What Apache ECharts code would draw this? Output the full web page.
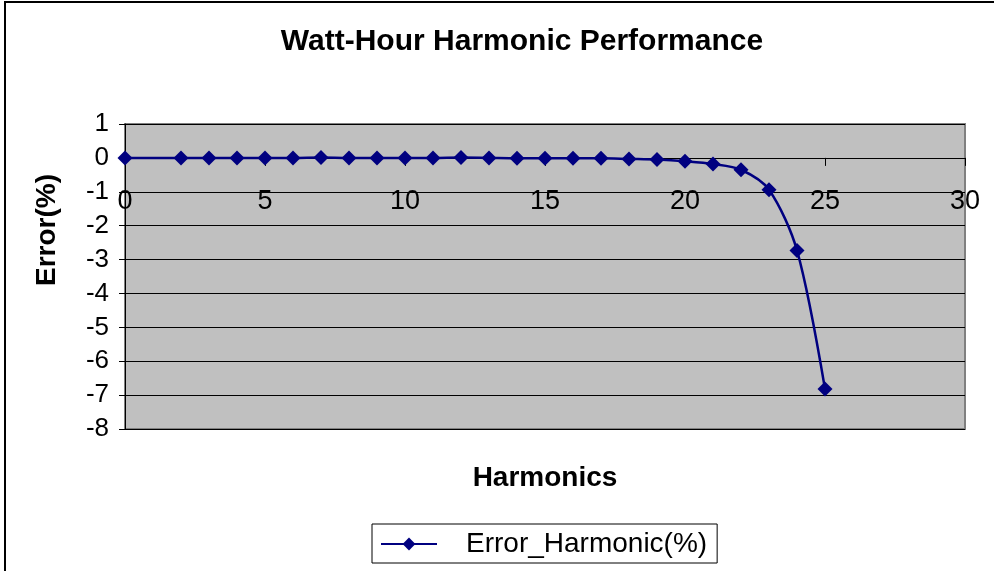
<!DOCTYPE html>
<html>
<head>
<meta charset="utf-8">
<script src="https://cdn.jsdelivr.net/npm/echarts@6/dist/echarts.min.js"></script>
<style>
  html, body { margin: 0; padding: 0; background: #fff; }
  #harmonicChart { width: 994px; height: 571px; }
</style>
</head>
<body>
<div id="harmonicChart"></div>
<script>
// harmonic order and measured error (%)
var harmonics = [0, 2, 3, 4, 5, 6, 7, 8, 9, 10, 11, 12, 13, 14, 15, 16, 17, 18, 19, 20, 21, 22, 23, 24, 25];
var errorValues = [0, 0, 0, 0, 0, 0, 0.01, 0, 0, 0, 0, 0.01, 0, -0.01, -0.01, -0.01, -0.01, -0.03, -0.05, -0.1, -0.18, -0.35, -0.94, -2.73, -6.82];
var seriesName = 'Error_Harmonic(%)';

var chart = echarts.init(document.getElementById('harmonicChart'));

var points = [];
for (var i = 0; i < harmonics.length; i++) {
    points.push([harmonics[i], errorValues[i]]);
}

var option = {
    backgroundColor: '#fff',
    animation: false,
    title: {
        text: 'Watt-Hour Harmonic Performance',
        left: 517,
        top: 22,
        textAlign: 'center',
        textStyle: {
            fontFamily: 'Liberation Sans',
            fontSize: 30,
            fontWeight: 'bold',
            color: '#000'
        }
    },
    legend: {
        data: [seriesName],
        left: 372,
        top: 524,
        backgroundColor: '#fff',
        borderColor: '#000',
        borderWidth: 1,
        padding: [6, 10, 5, 8],
        itemWidth: 56,
        itemHeight: 16,
        textStyle: {
            fontFamily: 'Liberation Sans',
            fontSize: 28,
            color: '#000',
            padding: [0, 0, 0, 24]
        }
    },
    grid: {
        left: 125,
        right: 29,
        top: 124,
        bottom: 142,
        outerBoundsMode: 'none',
        show: true,
        backgroundColor: '#C0C0C0',
        borderColor: '#808080',
        borderWidth: 2
    },
    xAxis: {
        type: 'value',
        min: 0,
        max: 30,
        interval: 5,
        name: 'Harmonics',
        nameLocation: 'middle',
        nameGap: 35,
        nameTextStyle: {
            fontFamily: 'Liberation Sans',
            fontSize: 28,
            fontWeight: 'bold',
            color: '#000'
        },
        axisLine: {
            onZero: true,
            lineStyle: { color: '#000', width: 1 }
        },
        axisTick: {
            show: true,
            length: 8,
            lineStyle: { color: '#000' }
        },
        axisLabel: {
            // labels sit just under the zero line, as in the original
            margin: -241,
            fontFamily: 'Liberation Sans',
            fontSize: 27,
            color: '#000'
        },
        splitLine: { show: false }
    },
    yAxis: {
        type: 'value',
        min: -8,
        max: 1,
        interval: 1,
        axisLine: {
            show: true,
            onZero: false,
            lineStyle: { color: '#000', width: 1 }
        },
        axisTick: {
            show: true,
            length: 6,
            lineStyle: { color: '#000' }
        },
        axisLabel: {
            margin: 16,
            fontFamily: 'Liberation Sans',
            fontSize: 26,
            color: '#000'
        },
        splitLine: {
            show: true,
            lineStyle: { color: '#000', width: 1 }
        }
    },
    graphic: [{
        // chart outer frame
        type: 'rect',
        shape: { x: 5, y: 2, width: 1000, height: 600 },
        style: { fill: 'none', stroke: '#000', lineWidth: 2 },
        z: 100
    }, {
        type: 'text',
        x: 47,
        y: 230,
        rotation: Math.PI / 2,
        style: {
            text: 'Error(%)',
            font: 'bold 28px "Liberation Sans"',
            fill: '#000',
            align: 'center',
            verticalAlign: 'middle'
        }
    }],
    series: [{
        name: seriesName,
        type: 'line',
        data: points,
        smooth: 0.3,
        symbol: 'diamond',
        symbolSize: 15,
        lineStyle: { color: '#000080', width: 2.5 },
        itemStyle: { color: '#000080' }
    }]
};

chart.setOption(option);
</script>
</body>
</html>
